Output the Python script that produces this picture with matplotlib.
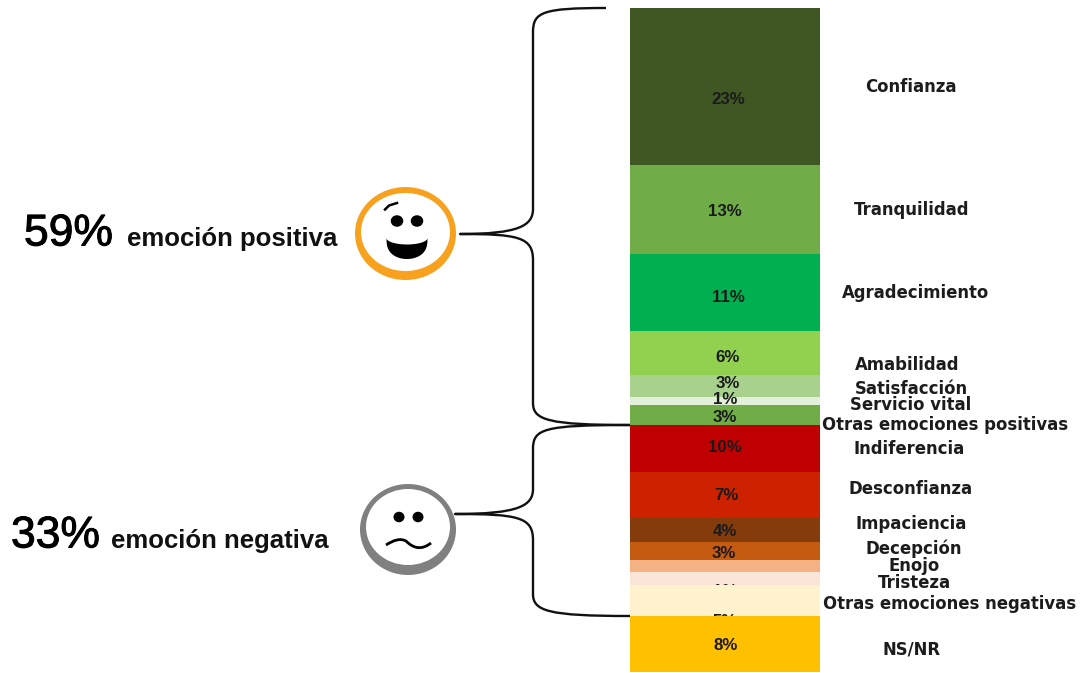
import matplotlib
matplotlib.use("Agg")
import matplotlib.pyplot as plt
import matplotlib.patheffects as pe
import numpy as np
from matplotlib.patches import Ellipse, PathPatch, Polygon
from matplotlib.path import Path
from matplotlib.transforms import Affine2D

categories = ["Confianza", "Tranquilidad", "Agradecimiento", "Amabilidad", "Satisfacción",
              "Servicio vital", "Otras emociones positivas", "Indiferencia", "Desconfianza",
              "Impaciencia", "Decepción", "Enojo", "Tristeza", "Otras emociones negativas", "NS/NR"]
# drawn segment sizes
segment_sizes = [22.9, 13.0, 11.2, 6.5, 3.2, 1.1, 2.9, 6.9, 6.7, 3.5, 2.6, 1.8, 1.9, 4.5, 8.2]
value_labels = ["23%", "13%", "11%", "6%", "3%", "1%", "3%", "10%", "7%", "4%", "3%", "", "1%", "5%", "8%"]
colors = ["#3e5723", "#70ad47", "#00b050", "#92d050", "#a9d18e", "#e2f0d9", "#70ad47", "#c00000",
          "#cc2200", "#843c0c", "#c55a11", "#f4b183", "#fbe5d6", "#fff2cc", "#ffc000"]
value_label_xy = [(728, 99), (725, 212), (728, 297), (728, 357), (728, 383), (725, 399), (725, 418),
                  (725, 448), (726, 496), (725, 531), (724, 554), (725, 567), (725, 591), (725, 622), (726, 646)]
category_xy = [(911, 87), (912, 210), (916, 293), (907, 365), (911, 389), (911, 405), (945, 425),
               (909, 449), (911, 489), (911, 524), (914, 549), (914, 566), (914, 583), (950, 604), (912, 649)]
# labels that the next segment covers in the reference
covered = {"1%": 12, "5%": 13}

W, H = 1083, 673
fig = plt.figure(figsize=(W / 100, H / 100), dpi=100, facecolor="white")
ax = fig.add_axes([630 / W, 1 - 672 / H, 190 / W, 664 / H])
ax.axis("off")
ax.set_xlim(-0.5, 0.5)
ax.set_ylim(sum(segment_sizes), 0)
px = Affine2D().scale(1, -1).translate(0, H)  # reference pixel coordinates

bottom = 0.0
for i, (v, c) in enumerate(zip(segment_sizes, colors)):
    ax.bar(0, v, width=1.0, bottom=bottom, color=c, linewidth=0, zorder=2 + i)
    bottom += v

FONT = "Liberation Sans"
WIDE = "DejaVu Sans"
for i, (lab, (x, y)) in enumerate(zip(value_labels, value_label_xy)):
    z = 30
    if i in covered.values():
        z = 2 + i + 0.5
    ax.text(x, y, lab, transform=px, ha="center", va="center", family=FONT, fontweight="bold",
            fontsize=12.2, color="#1a1a1a", zorder=z, clip_on=False)
for lab, (x, y) in zip(categories, category_xy):
    ax.text(x, y, lab, transform=px, ha="center", va="center", family=WIDE, fontweight="bold",
            fontsize=11.9, color="#1c1c1c", zorder=31, clip_on=False)

# headline text
stroke = [pe.withStroke(linewidth=0.7, foreground="black")]
ax.text(24, 234, "59%", transform=px, ha="left", va="center", family=FONT, fontsize=32, color="black",
        clip_on=False, path_effects=stroke)
ax.text(127, 239, "emoción positiva", transform=px, ha="left", va="center", family=FONT, fontweight="bold",
        fontsize=18.5, color="#111111", clip_on=False)
ax.text(11, 536, "33%", transform=px, ha="left", va="center", family=FONT, fontsize=32, color="black",
        clip_on=False, path_effects=stroke)
ax.text(111, 541, "emoción negativa", transform=px, ha="left", va="center", family=FONT, fontweight="bold",
        fontsize=18.5, color="#111111", clip_on=False)

# brackets
def bracket(top, tip, bot, spine_x=533):
    C4, M, L = Path.CURVE4, Path.MOVETO, Path.LINETO
    (tx, ty), (ex, ey), (bx, by) = top, tip, bot
    verts = [top, (spine_x + 10, ty), (spine_x, ty + 4), (spine_x, ty + 24),
             (spine_x, ey - 25), (spine_x, ey - 8), (spine_x - 15, ey), (ex, ey),
             (spine_x - 15, ey), (spine_x, ey + 3), (spine_x, ey + 26),
             (spine_x, by - 22), (spine_x, by - 5), (spine_x + 15, by), (bx, by)]
    codes = [M, C4, C4, C4, L, C4, C4, C4, C4, C4, C4, L, C4, C4, C4]
    ax.add_patch(PathPatch(Path(verts, codes), transform=px, fill=False, ec="#111111", lw=1.7,
                           capstyle="butt", joinstyle="round", clip_on=False, zorder=1))

bracket((606, 8), (460, 234), (630, 425))
bracket((630, 425), (455, 514), (630, 616))

# faces
def ellipse(x, y, w, h, z=5, **kw):
    ax.add_patch(Ellipse((x, y), w, h, transform=px, clip_on=False, zorder=z, ec="none", **kw))

ellipse(405.5, 233.5, 101, 93, fc="#f7a11f")
ellipse(405.5, 232, 89, 78, z=5.5, fc="white")
ellipse(397, 221, 12.5, 11.5, z=6, fc="black")
ellipse(417, 221, 12.5, 11.5, z=6, fc="black")
a = np.linspace(0, np.pi, 40)
lower = np.c_[407 + 20.5 * np.cos(a), 238 + 21 * np.sin(a) ** 0.7]
upper = np.c_[407 - 20.5 * np.cos(a), 238 + 6.5 * np.sin(a)]
ax.add_patch(Polygon(np.vstack([lower, upper]), closed=True, transform=px, fc="black", ec="none",
                     clip_on=False, zorder=6))
ax.plot([385, 389, 397], [209.5, 205.5, 203], transform=px, color="black", lw=1.8, clip_on=False, zorder=6)

ellipse(408, 529.5, 96, 91, fc="#808080")
ellipse(408, 527, 84, 76, z=5.5, fc="white")
ellipse(399, 517, 11, 10.5, z=6, fc="black")
ellipse(418, 517, 11, 10.5, z=6, fc="black")
C4 = Path.CURVE4
wave = Path([(386, 545), (394, 540), (400, 538), (406, 541), (414, 549), (422, 550), (431, 543)],
            [Path.MOVETO, C4, C4, C4, C4, C4, C4])
ax.add_patch(PathPatch(wave, transform=px, fill=False, ec="black", lw=2.0, clip_on=False, zorder=6))

fig.savefig("out.png", dpi=100, facecolor="white")
